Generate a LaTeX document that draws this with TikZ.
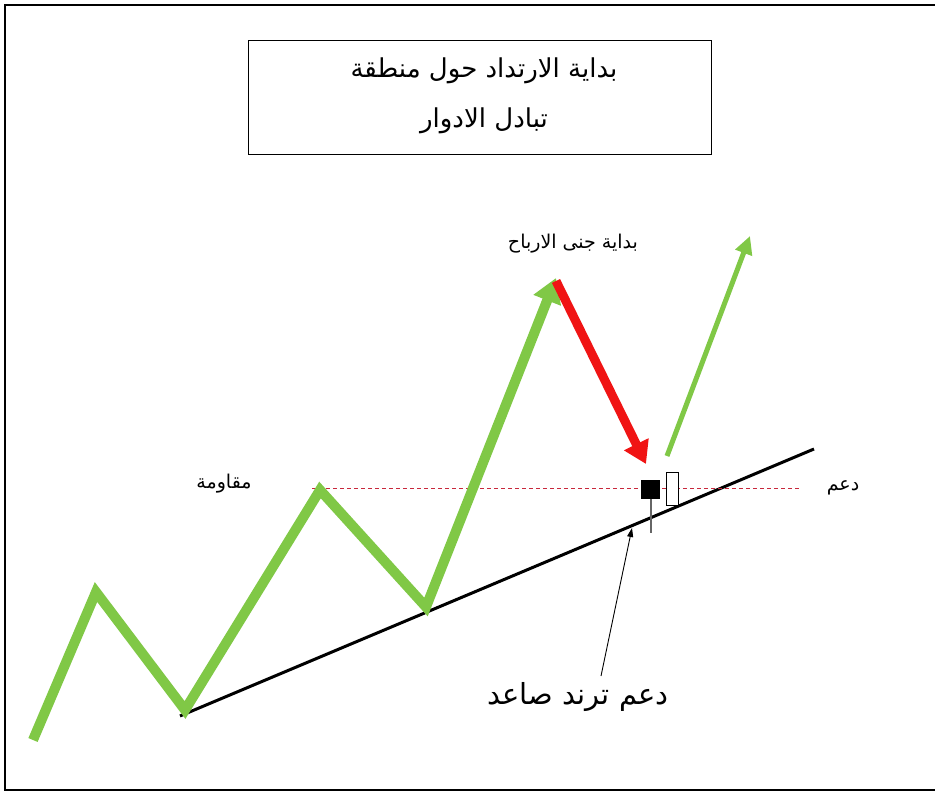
\documentclass[tikz,border=0pt]{standalone}
\usepackage{fontspec}
\usetikzlibrary{arrows.meta}
\newfontfamily\arabicfont[Script=Arabic]{DejaVu Sans}
\TeXXeTstate=1
\definecolor{trendgreen}{RGB}{128,200,70}
\definecolor{dropred}{RGB}{240,20,20}
\definecolor{dashred}{RGB}{200,40,60}
\tikzset{
  lbl/.style={font=\arabicfont\fontsize{19}{22}\selectfont, inner sep=0pt},
  greenpath/.style={draw=trendgreen, line width=10pt},
  frame/.style={draw=black, line width=1.2pt},
}
\begin{document}
\begin{tikzpicture}[x=1pt,y=-1pt]
\useasboundingbox (0,0) rectangle (935,794);
\fill[white] (0,0) rectangle (935,794);
\draw[frame, line width=2pt] (5,5) rectangle (945,790);
% title box
\node[draw=black, line width=1pt, minimum width=463pt, minimum height=114pt, inner sep=0pt] (title) at (479.5,98) {};
\node[font=\arabicfont\fontsize{26}{50}\selectfont, align=center, inner sep=0pt] (titletext) at (484,96) {\beginR بداية الارتداد حول منطقة\endR\\\beginR تبادل الادوار\endR};
% coordinates
\coordinate (p0) at (33,740);
\coordinate (p1) at (96,592);
\coordinate (p2) at (185,710);
\coordinate (p3) at (320,490);
\coordinate (p4) at (426,607);
\coordinate (p5) at (556,278);
\coordinate (r0) at (556,281);
\coordinate (r1) at (646,464);
\coordinate (g0) at (667,456);
\coordinate (g1) at (750,236);
\coordinate (t0) at (180,716);
\coordinate (t1) at (814,449);
% support trend line
\draw[black, line width=3pt] (t0) -- (t1);
% dashed resistance/support
\coordinate (d0) at (312,488);
\coordinate (d1) at (800,488);
\draw[dashred, line width=0.8pt, dash pattern=on 4pt off 3pt] (d0) -- (d1);
% green zigzag
\draw[greenpath, -{Triangle[width=28pt,length=24pt]}] (p0) -- (p1) -- (p2) -- (p3) -- (p4) -- (p5);
% red arrow
\draw[dropred, line width=9pt, -{Triangle[width=26pt,length=22pt]}] (r0) -- (r1);
% second green arrow
\draw[trendgreen, line width=5pt, -{Triangle[width=17pt,length=18pt]}] (g0) -- (g1);
% candles
\coordinate (w0) at (651,499);
\coordinate (w1) at (651,533);
\draw[gray!80!black, line width=1.5pt] (w0) -- (w1);
\node[draw=black, fill=black, minimum width=18pt, minimum height=18pt, inner sep=0pt] (bcandle) at (650.5,489.5) {};
\node[draw=black, fill=white, line width=0.8pt, minimum width=12pt, minimum height=33pt, inner sep=0pt] (wcandle) at (672,488.5) {};
% labels
\node[lbl] (res) at (224,484) {\beginR مقاومة\endR};
\node[lbl] (sup) at (843,488) {\beginR دعم\endR};
\node[lbl] (profit) at (573,244) {\beginR بداية جنى الارباح\endR};
\node[font=\arabicfont\fontsize{29}{32}\selectfont, inner sep=0pt] (trend) at (578,697) {\beginR دعم ترند صاعد\endR};
% pointer arrow
\coordinate (a0) at (601,676);
\coordinate (a1) at (632,528);
\draw[black, line width=0.9pt, -{Triangle[width=6pt,length=9pt]}] (a0) -- (a1);
\end{tikzpicture}
\end{document}
